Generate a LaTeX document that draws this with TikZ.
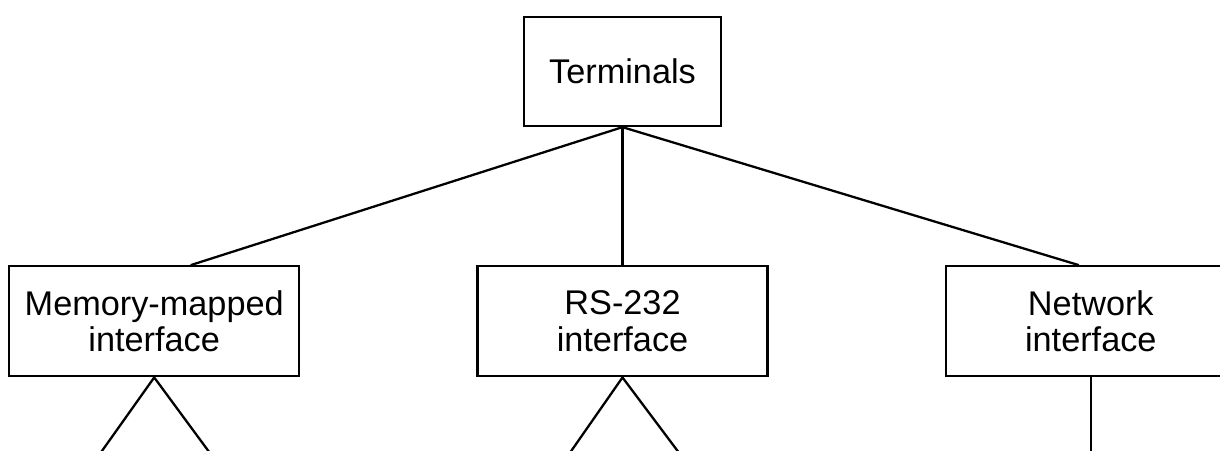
\documentclass[tikz,border=0pt]{standalone}
\usepackage{fontspec}
\setmainfont{Liberation Sans}
\usetikzlibrary{positioning}

\begin{document}
\begin{tikzpicture}[
    node distance=2.76cm and 3.52cm,
    top/.style={rectangle, draw, line width=1.3pt, minimum width=3.94cm, minimum height=2.18cm, font=\fontsize{19.5}{21}\selectfont},
    iface/.style={rectangle, draw, line width=1.3pt, minimum width=5.8cm, minimum height=2.2cm, align=center, font=\fontsize{19.5}{21}\selectfont},
    link/.style={line width=1.3pt}
]

% Frame
\clip (-12.45,-7.57) rectangle (11.95,1.43);

% Root
\node[top] (term) at (0,0) {Terminals};

% Interfaces
\node[iface, below=of term] (rs) {RS-232\\interface};
\node[iface, left=of rs] (mem) {Memory-mapped\\interface};
\node[iface, right=of rs] (net) {Network\\interface};

% Loose ends
\coordinate[below left=1.52cm and 1.08cm of mem.south] (memL);
\coordinate[below right=1.52cm and 1.12cm of mem.south] (memR);
\coordinate[below left=1.52cm and 1.06cm of rs.south] (rsL);
\coordinate[below right=1.52cm and 1.14cm of rs.south] (rsR);
\coordinate[below=1.52cm of net.south] (netB);

% Links
\draw[link] (term.south) -- (mem.57);
\draw[link] (term.south) -- (rs.north);
\draw[link] (term.south) -- (net.102);
\draw[link] (memL) -- (mem.south) -- (memR);
\draw[link] (rsL) -- (rs.south) -- (rsR);
\draw[link] (net.south) -- (netB);

\end{tikzpicture}
\end{document}
